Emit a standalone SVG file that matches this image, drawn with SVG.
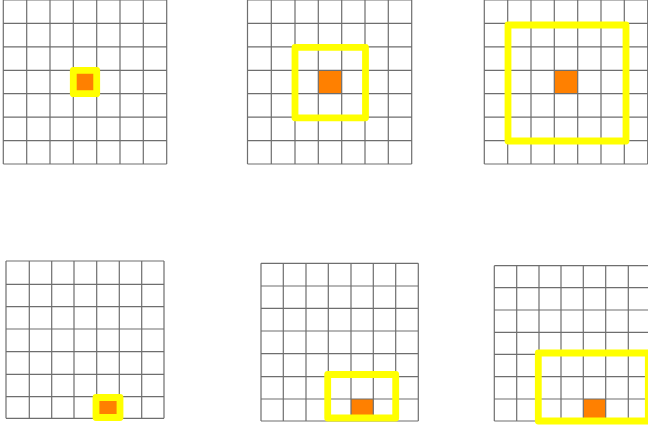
<svg xmlns="http://www.w3.org/2000/svg" width="648" height="431" viewBox="0 0 648 431">
<style>
.grid{fill:none;stroke:#6e6e6e;stroke-width:1.2}
.cell{fill:#ff8000}
.win{fill:none;stroke:#ffff00;stroke-width:6.8;stroke-linejoin:round}
</style>
<rect width="648" height="431" fill="#ffffff"/>
<g id="grid1">
<rect class="cell" x="73.3" y="70.3" width="23.4" height="23.4"/>
<path class="grid" d="M3.3 0V164M26.7 0V164M50 0V164M73.3 0V164M96.7 0V164M120 0V164M143.3 0V164M166.7 0V164M3.3 0H166.7M3.3 23.4H166.7M3.3 46.9H166.7M3.3 70.3H166.7M3.3 93.7H166.7M3.3 117.1H166.7M3.3 140.6H166.7M3.3 164H166.7"/>
<rect class="win" x="73.3" y="70.3" width="23.4" height="23.4"/>
</g>
<g id="grid2">
<rect class="cell" x="318.3" y="70.3" width="23.4" height="23.4"/>
<path class="grid" d="M247.5 0V164M271.3 0V164M295 0V164M318.3 0V164M341.7 0V164M365 0V164M388.3 0V164M411.7 0V164M247.5 0H411.7M247.5 23.4H411.7M247.5 46.9H411.7M247.5 70.3H411.7M247.5 93.7H411.7M247.5 117.1H411.7M247.5 140.6H411.7M247.5 164H411.7"/>
<rect class="win" x="295" y="47.3" width="70.5" height="70.5"/>
</g>
<g id="grid3">
<rect class="cell" x="554.3" y="70.3" width="23.4" height="23.4"/>
<path class="grid" d="M484.3 0V164M507.7 0V164M531 0V164M554.3 0V164M577.7 0V164M601 0V164M624.3 0V164M647.7 0V164M484.3 0H647.7M484.3 23.4H647.7M484.3 46.9H647.7M484.3 70.3H647.7M484.3 93.7H647.7M484.3 117.1H647.7M484.3 140.6H647.7M484.3 164H647.7"/>
<rect class="win" x="508" y="25" width="118" height="116"/>
</g>
<g id="grid4">
<rect class="cell" x="96.7" y="396.7" width="22.6" height="21.6"/>
<path class="grid" d="M6 261V418.3M29.3 261V418.3M51.7 261V418.3M74 261V418.3M96.7 261V418.3M119.3 261V418.3M141.7 261V418.3M164 261V418.3M6 261H164M6 284.3H164M6 306.7H164M6 329H164M6 351.7H164M6 374.3H164M6 396.7H164M6 418.3H164"/>
<rect class="win" x="96" y="397.5" width="24" height="20"/>
</g>
<g id="grid5">
<rect class="cell" x="351" y="399" width="22.3" height="22"/>
<path class="grid" d="M261 263.3V421M283.3 263.3V421M306 263.3V421M328.3 263.3V421M351 263.3V421M373.3 263.3V421M395.7 263.3V421M418.3 263.3V421M261 263.3H418.3M261 286H418.3M261 308.3H418.3M261 331H418.3M261 353.7H418.3M261 376.7H418.3M261 399H418.3M261 421H418.3"/>
<rect class="win" x="327.7" y="374.5" width="68" height="43.5"/>
</g>
<g id="grid6">
<rect class="cell" x="583.3" y="399" width="22.4" height="22"/>
<path class="grid" d="M494.3 265.7V421M516.7 265.7V421M539 265.7V421M561 265.7V421M583.3 265.7V421M605.7 265.7V421M628.3 265.7V421M650.7 265.7V421M494.3 265.7H650.7M494.3 287.7H650.7M494.3 310H650.7M494.3 332.3H650.7M494.3 354.3H650.7M494.3 376.7H650.7M494.3 399H650.7M494.3 421H650.7"/>
<rect class="win" x="538.3" y="353" width="110" height="68"/>
</g>
<g id="connectors"/>
</svg>
